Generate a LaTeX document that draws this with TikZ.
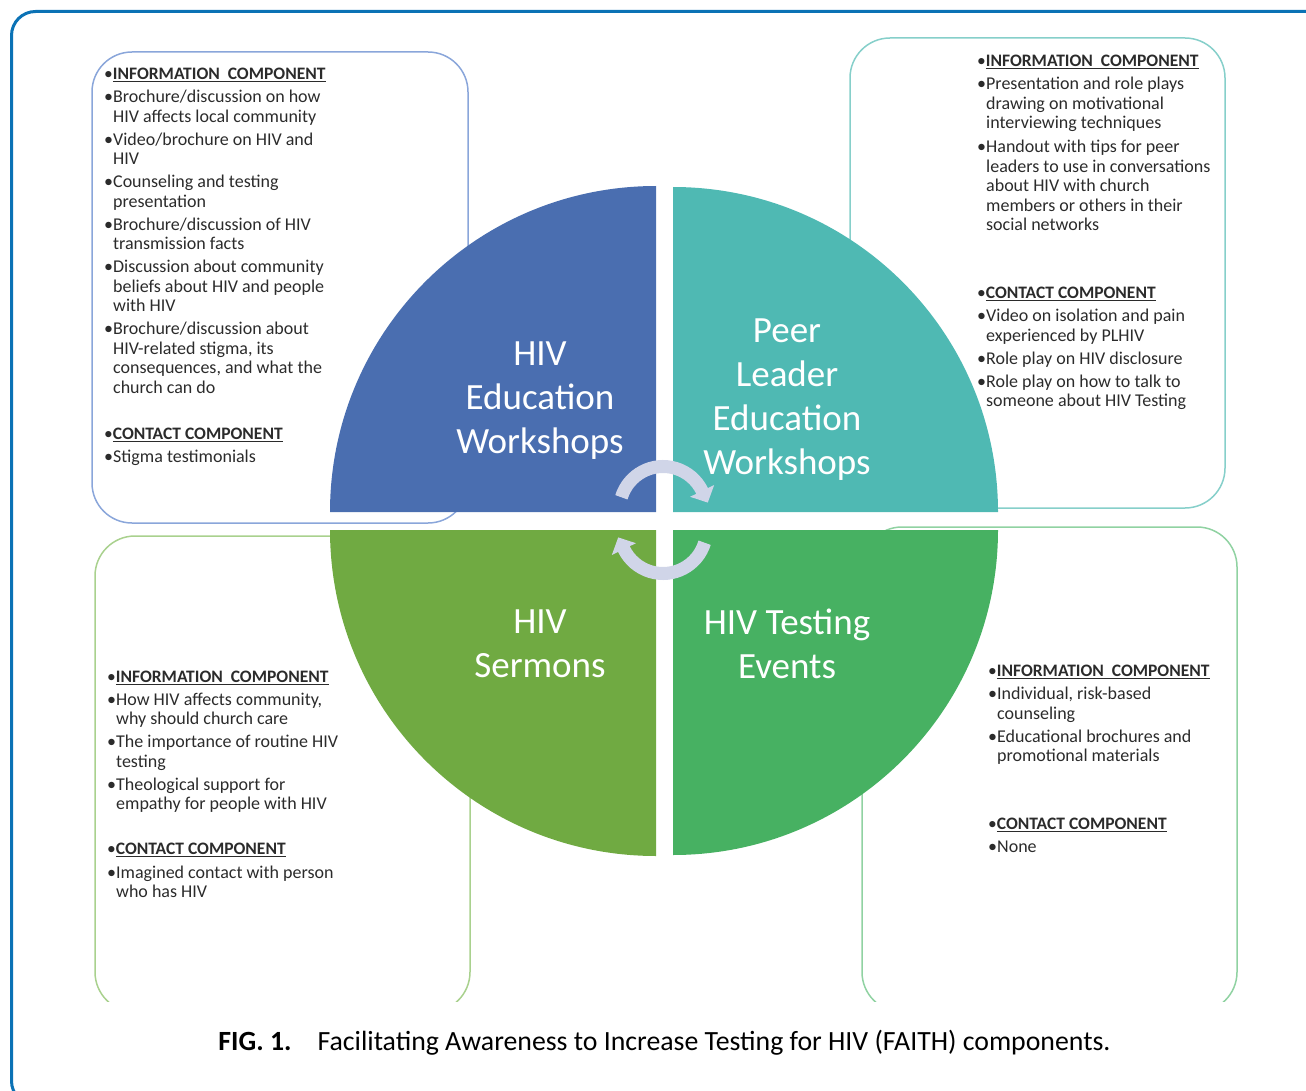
\documentclass[tikz,border=0pt]{standalone}
\usepackage{fontspec}
\setmainfont{Carlito}
\usetikzlibrary{arrows.meta}
\definecolor{framec}{HTML}{0B72B5}
\definecolor{edublue}{HTML}{4A6EB0}
\definecolor{peerteal}{HTML}{4FB9B3}
\definecolor{sermgreen}{HTML}{70AA42}
\definecolor{testgreen}{HTML}{47B162}
\definecolor{edulight}{HTML}{8AA6DA}
\definecolor{peerlight}{HTML}{86CFCA}
\definecolor{sermlight}{HTML}{A9D18E}
\definecolor{testlight}{HTML}{90D2A2}
\definecolor{cycgray}{HTML}{D0D5E8}
\definecolor{textgray}{HTML}{2B2B2B}
\newcommand{\cmphead}[1]{\rule{0pt}{14pt}{\fontsize{17.5}{19.5}\selectfont\textbullet\underline{\textbf{#1}}}}
\newcommand{\cmpsub}[1]{{\fontsize{17.5}{19.5}\selectfont\textbullet\underline{\textbf{#1}}}}
\newcommand{\ctn}{\hphantom{\textbullet}}

\begin{document}
\begin{tikzpicture}[x=1pt, y=1pt, panel/.style = {shape=rectangle, draw, rounded corners=40pt, line width=1.5pt, fill=none}, quarter/.style = {text=white, align=center, font=\fontsize{37}{44}\selectfont}, items/.style = {anchor=north west, inner sep=0pt, align=left, text=textgray, font=\fontsize{18}{19.5}\selectfont}, cyc/.style = {line width=13pt, draw=cycgray, -{Triangle[width=26pt, length=13pt, fill=cycgray]}}]
	\clip (0,0) rectangle (1306,-1091);
	\draw[framec, line width=3pt, rounded corners=24pt] (11.5,-11.5) rectangle (1330,-1105);
	% boxes
	\node[panel, draw=edulight, minimum width=376pt, minimum height=471pt] (edu-box) at (280,-287.5) {};
	\node[panel, draw=peerlight, minimum width=375pt, minimum height=470pt] (peer-box) at (1037.5,-273) {};
	\begin{scope}
		\clip (0,-516) rectangle (1306,-1001);
		\node[panel, draw=sermlight, minimum width=375pt, minimum height=476pt] (serm-box) at (282.5,-774) {};
		\node[panel, draw=testlight, minimum width=375pt, minimum height=485pt] (test-box) at (1049.5,-769.5) {};
	\end{scope}
	% quarters
	\fill[edublue] (656,-512) -- (330,-512) arc[start angle=180, end angle=90, radius=326] -- cycle;
	\fill[peerteal] (673,-512) -- (673,-187) arc[start angle=90, end angle=0, radius=325] -- cycle;
	\fill[sermgreen] (656,-530) -- (330,-530) arc[start angle=180, end angle=270, radius=326] -- cycle;
	\fill[testgreen] (673,-530) -- (998,-530) arc[start angle=0, end angle=-90, radius=325] -- cycle;
	\node[quarter] (edu) at (540,-401) {HIV\\Education\\Workshops};
	\node[quarter] (peer) at (787,-400) {Peer\\Leader\\Education\\Workshops};
	\node[quarter] (serm) at (540,-644) {HIV\\Sermons};
	\node[quarter] (test) at (787,-644) {HIV Testing\\Events};
	% cycle arrows
	\coordinate (top-mid) at (663,-510);
	\coordinate (bot-mid) at (663,-530);
	\draw[cyc] ([shift={(163:43.5)}]top-mid) arc[start angle=163, end angle=26, radius=43.5] -- ++(-64:13);
	\draw[cyc] ([shift={(-17:43.5)}]bot-mid) arc[start angle=-17, end angle=-154, radius=43.5] -- ++(116:13);
	% texts
	\node[items] (edu-text) at (104,-65.6) {\cmphead{INFORMATION\ \ COMPONENT}\\[3.5pt]
		\textbullet Brochure/discussion on how\\ \ctn HIV affects local community\\[3.5pt]
		\textbullet Video/brochure on HIV and\\ \ctn HIV\\[3.5pt]
		\textbullet Counseling and testing\\ \ctn presentation\\[3.5pt]
		\textbullet Brochure/discussion of HIV\\ \ctn transmission facts\\[3.5pt]
		\textbullet Discussion about community\\ \ctn beliefs about HIV and people\\ \ctn with HIV\\[3.5pt]
		\textbullet Brochure/discussion about\\ \ctn HIV-related stigma, its\\ \ctn consequences, and what the\\ \ctn church can do\\[26.5pt]
		\cmpsub{CONTACT COMPONENT}\\[3.5pt]
		\textbullet Stigma testimonials};
	\node[items] (peer-text) at (977,-52.6) {\cmphead{INFORMATION\ \ COMPONENT}\\[3.5pt]
		\textbullet Presentation and role plays\\ \ctn drawing on motivational\\ \ctn interviewing techniques\\[4.5pt]
		\textbullet Handout with tips for peer\\ \ctn leaders to use in conversations\\ \ctn about HIV with church\\ \ctn members or others in their\\ \ctn social networks\\[48.5pt]
		\cmpsub{CONTACT COMPONENT}\\[3.5pt]
		\textbullet Video on isolation and pain\\ \ctn experienced by PLHIV\\[3.5pt]
		\textbullet Role play on HIV disclosure\\[3.5pt]
		\textbullet Role play on how to talk to\\ \ctn someone about HIV Testing};
	\node[items] (serm-text) at (107,-668.6) {\cmphead{INFORMATION\ \ COMPONENT}\\[3pt]
		\textbullet How HIV affects community,\\ \ctn why should church care\\[3.5pt]
		\textbullet The importance of routine HIV\\ \ctn testing\\[3.5pt]
		\textbullet Theological support for\\ \ctn empathy for people with HIV\\[25.5pt]
		\cmpsub{CONTACT COMPONENT}\\[4pt]
		\textbullet Imagined contact with person\\ \ctn who has HIV};
	\node[items] (test-text) at (988,-662.6) {\cmphead{INFORMATION\ \ COMPONENT}\\[3.5pt]
		\textbullet Individual, risk-based\\ \ctn counseling\\[3.5pt]
		\textbullet Educational brochures and\\ \ctn promotional materials\\[48.5pt]
		\cmpsub{CONTACT COMPONENT}\\[3.5pt]
		\textbullet None};
	% caption
	\node[font=\fontsize{27.8}{32}\selectfont, text=black, inner sep=0pt] (caption) at (664.5,-1043) {\textbf{FIG. 1.}\hspace{26pt}Facilitating Awareness to Increase Testing for HIV (FAITH) components.};
\end{tikzpicture}
\end{document}
